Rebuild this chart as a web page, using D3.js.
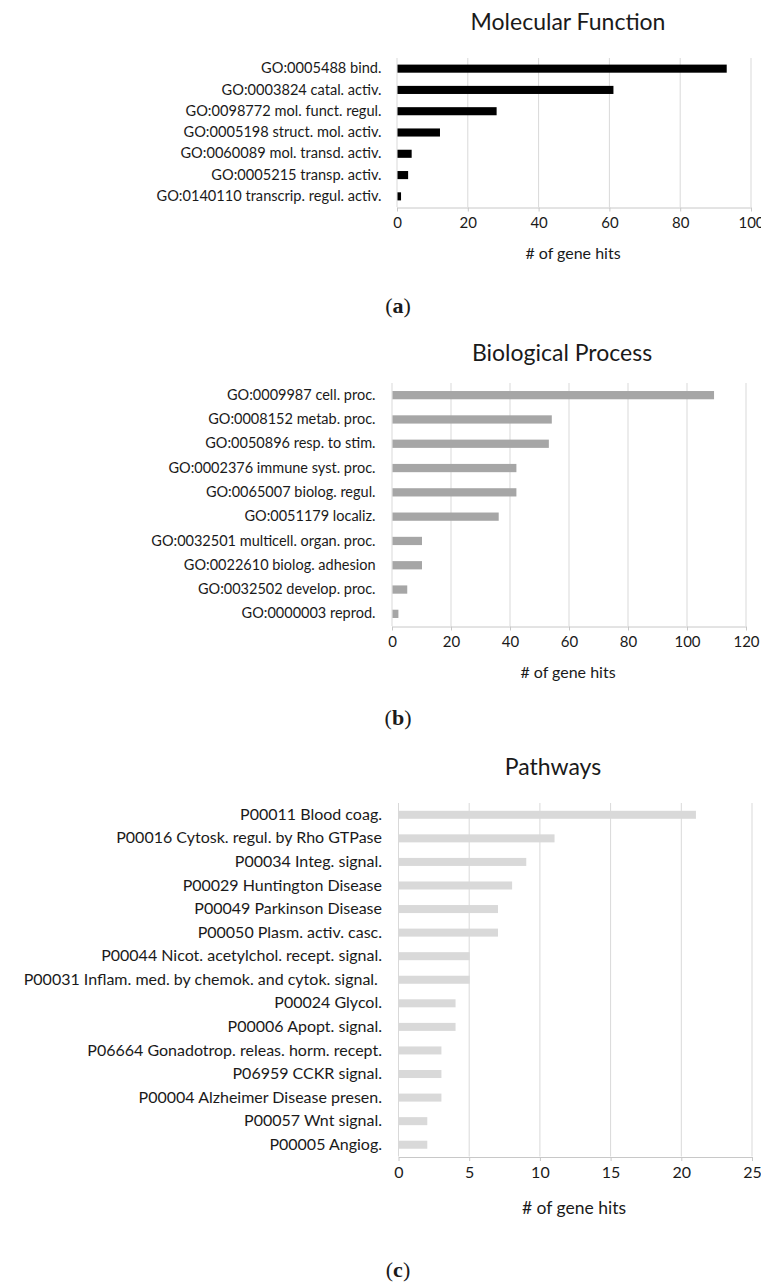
<!DOCTYPE html>
<html>
<head>
<meta charset="utf-8">
<script src="https://cdn.jsdelivr.net/npm/d3@7/dist/d3.min.js"></script>
<style>
  html, body { margin: 0; padding: 0; background: #fff; }
  svg { display: block; }
  text { font-family: Lato, "Open Sans", sans-serif; fill: #1a1a1a; }
  .caption { font-family: "Liberation Serif", "DejaVu Serif", serif; }
</style>
</head>
<body>
<svg id="chart" width="761" height="1284"></svg>
<script>
// ---- Data ----
const mfTitle = "Molecular Function";
const mfCategories = [
  "GO:0005488 bind.",
  "GO:0003824 catal. activ.",
  "GO:0098772 mol. funct. regul.",
  "GO:0005198 struct. mol. activ.",
  "GO:0060089 mol. transd. activ.",
  "GO:0005215 transp. activ.",
  "GO:0140110 transcrip. regul. activ."
];
const mfValues = [93, 61, 28, 12, 4, 3, 1];
const mfTicks = [0, 20, 40, 60, 80, 100];

const bpTitle = "Biological Process";
const bpCategories = [
  "GO:0009987 cell. proc.",
  "GO:0008152 metab. proc.",
  "GO:0050896 resp. to stim.",
  "GO:0002376 immune syst. proc.",
  "GO:0065007 biolog. regul.",
  "GO:0051179 localiz.",
  "GO:0032501 multicell. organ. proc.",
  "GO:0022610 biolog. adhesion",
  "GO:0032502 develop. proc.",
  "GO:0000003 reprod."
];
const bpValues = [109, 54, 53, 42, 42, 36, 10, 10, 5, 2];
const bpTicks = [0, 20, 40, 60, 80, 100, 120];

const pwTitle = "Pathways";
const pwCategories = [
  "P00011 Blood coag.",
  "P00016 Cytosk. regul. by Rho GTPase",
  "P00034 Integ. signal.",
  "P00029 Huntington Disease",
  "P00049 Parkinson Disease",
  "P00050 Plasm. activ. casc.",
  "P00044 Nicot. acetylchol. recept. signal.",
  "P00031 Inflam. med. by chemok. and cytok. signal. ",
  "P00024 Glycol.",
  "P00006 Apopt. signal.",
  "P06664 Gonadotrop. releas. horm. recept.",
  "P06959 CCKR signal.",
  "P00004 Alzheimer Disease presen.",
  "P00057 Wnt signal.",
  "P00005 Angiog."
];
const pwValues = [21, 11, 9, 8, 7, 7, 5, 5, 4, 4, 3, 3, 3, 2, 2];
const pwTicks = [0, 5, 10, 15, 20, 25];

const axisTitle = "# of gene hits";
const captions = ["a", "b", "c"];

// ---- Drawing ----
const svg = d3.select("#chart");

function drawPanel(o) {
  const g = svg.append("g");
  const x = d3.scaleLinear().domain([0, d3.max(o.ticks)]).range([o.x0, o.x1]);
  const y = d3.scaleBand().domain(o.categories).range([o.top, o.bottom])
    .paddingInner(o.pad).paddingOuter(o.pad / 2);

  // gridlines
  g.append("g").selectAll("line").data(o.ticks).join("line")
    .attr("x1", d => x(d) + 0.5).attr("x2", d => x(d) + 0.5)
    .attr("y1", o.top).attr("y2", o.bottom)
    .attr("stroke", "#d9d9d9").attr("stroke-width", 1);

  // bottom axis
  const ax = g.append("g").attr("transform", `translate(0.5,${o.bottom + 0.5})`)
    .call(d3.axisBottom(x).tickValues(o.ticks).tickSize(4).tickSizeOuter(0).tickPadding(6));
  ax.select(".domain").attr("stroke", "#c8c8c8");
  ax.selectAll(".tick line").attr("stroke", "#c8c8c8");
  ax.selectAll(".tick text")
    .attr("font-family", "Lato, sans-serif")
    .attr("font-size", o.tickFs).attr("fill", "#1a1a1a");

  // left category axis (labels)
  const ay = g.append("g").attr("transform", `translate(${o.x0},0)`)
    .call(d3.axisLeft(y).tickSize(0).tickPadding(o.labelPad));
  ay.select(".domain").remove();
  ay.selectAll(".tick text")
    .attr("font-family", "Lato, sans-serif")
    .attr("font-size", o.fs).attr("fill", "#1a1a1a")
    .style("white-space", "pre");

  // bars
  g.append("g").selectAll("rect").data(o.values).join("rect")
    .attr("x", x(0) + 1)
    .attr("y", (d, i) => y(o.categories[i]))
    .attr("width", d => Math.max(0, x(d) - x(0)))
    .attr("height", y.bandwidth())
    .attr("fill", o.color);

  // title
  g.append("text").attr("x", o.titleX).attr("y", o.titleY)
    .attr("text-anchor", "middle").attr("font-size", o.titleFs).text(o.title);

  // axis title
  g.append("text").attr("x", o.axTitleX).attr("y", o.axTitleY)
    .attr("text-anchor", "middle").attr("font-size", o.axFs).text(axisTitle);

  // caption
  const c = g.append("text").attr("class", "caption")
    .attr("x", 398).attr("y", o.capY).attr("text-anchor", "middle")
    .attr("font-size", 22).attr("fill", "#000");
  c.append("tspan").text("(");
  c.append("tspan").attr("font-weight", "bold").text(o.caption);
  c.append("tspan").text(")");
}

drawPanel({
  title: mfTitle, categories: mfCategories, values: mfValues, ticks: mfTicks,
  color: "#000000", x0: 396.5, x1: 750.5, top: 58, bottom: 207, pad: 0.62,
  fs: 14.6, tickFs: 15, axFs: 16, labelPad: 15, titleFs: 23, titleX: 568, titleY: 30,
  axTitleX: 573, axTitleY: 259, capY: 313, caption: captions[0]
});

drawPanel({
  title: bpTitle, categories: bpCategories, values: bpValues, ticks: bpTicks,
  color: "#a6a6a6", x0: 391.5, x1: 745.5, top: 383, bottom: 626, pad: 0.66,
  fs: 14.5, tickFs: 15, axFs: 16, labelPad: 16, titleFs: 23, titleX: 562, titleY: 361,
  axTitleX: 568, axTitleY: 678, capY: 725, caption: captions[1]
});

drawPanel({
  title: pwTitle, categories: pwCategories, values: pwValues, ticks: pwTicks,
  color: "#d9d9d9", x0: 398, x1: 751.5, top: 803, bottom: 1156.5, pad: 0.66,
  fs: 16, tickFs: 16, axFs: 17.5, labelPad: 16, titleFs: 23, titleX: 553, titleY: 775,
  axTitleX: 574, axTitleY: 1214, capY: 1277, caption: captions[2]
});
</script>
</body>
</html>
